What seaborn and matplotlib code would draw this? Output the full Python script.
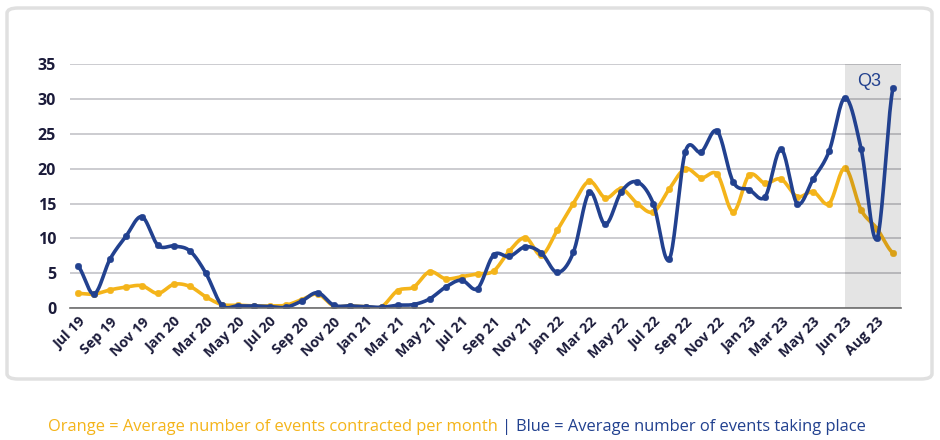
import numpy as np
import pandas as pd
import seaborn as sns
import matplotlib.pyplot as plt
from matplotlib.patches import FancyBboxPatch

# values, one per month slot (52 slots, labels every 2nd)
contracted = [2.1, 2.0, 2.6, 3.0, 3.2, 2.1, 3.4, 3.1, 1.6, 0.5,
              0.4, 0.3, 0.3, 0.4, 1.2, 2.0, 0.3, 0.3, 0.2, 0.2,
              2.5, 3.0, 5.2, 4.2, 4.5, 4.9, 5.3, 8.2, 10.1, 7.6,
              11.2, 15.0, 18.2, 15.8, 17.1, 15.0, 13.8, 17.1, 20.0, 18.7,
              19.2, 13.8, 19.1, 17.9, 18.5, 16.0, 16.7, 15.0, 20.1, 14.1,
              11.4, 7.9]
taking_place = [6.0, 2.0, 7.0, 10.3, 13.1, 9.0, 8.9, 8.2, 5.0, 0.4,
                0.3, 0.3, 0.2, 0.1, 1.0, 2.2, 0.4, 0.3, 0.2, 0.1,
                0.4, 0.5, 1.3, 3.0, 4.0, 2.8, 7.6, 7.4, 8.8, 7.9,
                5.1, 8.0, 16.6, 12.0, 16.7, 18.1, 15.0, 7.0, 22.4, 22.4,
                25.4, 18.1, 17.0, 16.0, 22.8, 15.0, 18.5, 22.5, 30.2, 22.9,
                10.0, 31.6]
tick_labels = ["Jul 19", "Sep 19", "Nov 19", "Jan 20", "Mar 20", "May 20", "Jul 20",
               "Sep 20", "Nov 20", "Jan 21", "Mar 21", "May 21", "Jul 21", "Sep 21",
               "Nov 21", "Jan 22", "Mar 22", "May 22", "Jul 22", "Sep 22", "Nov 22",
               "Jan 23", "Mar 23", "May 23", "Jun 23", "Aug 23"]
q3_start = 48

ORANGE = "#F4B41A"
BLUE = "#22418F"
TEXT = "#1B1B3A"


def smooth(y, steps=20):
    # catmull-rom curve through the points, like excel's smoothed line
    y = np.asarray(y, dtype=float)
    x = np.arange(len(y), dtype=float)
    px = np.concatenate([[2 * x[0] - x[1]], x, [2 * x[-1] - x[-2]]])
    py = np.concatenate([[y[0]], y, [y[-1]]])
    xs, ys = [], []
    t = np.linspace(0, 1, steps, endpoint=False)
    for i in range(1, len(px) - 2):
        for arr, out in ((px, xs), (py, ys)):
            p0, p1, p2, p3 = arr[i - 1], arr[i], arr[i + 1], arr[i + 2]
            out.extend(0.5 * ((2 * p1) + (-p0 + p2) * t + (2 * p0 - 5 * p1 + 4 * p2 - p3) * t ** 2
                              + (-p0 + 3 * p1 - 3 * p2 + p3) * t ** 3))
    xs.append(x[-1])
    ys.append(y[-1])
    return np.array(xs), np.array(ys)


sns.set_theme(style="white")
plt.rcParams['font.family'] = ['Open Sans', 'DejaVu Sans']

fig = plt.figure(figsize=(9.4, 4.4), dpi=100)
ax = fig.add_axes([0.0745, 0.3, 0.884, 0.5539])

# outer rounded frame
frame = FancyBboxPatch((7 / 940, 61 / 440), 925 / 940, 371 / 440,
                       boxstyle="round,pad=0,rounding_size=0.012",
                       transform=fig.transFigure, fill=False,
                       edgecolor="#E0E0E0", linewidth=2.5, zorder=0)
fig.patches.append(frame)

idx = np.arange(len(contracted))
sx, sy = smooth(contracted)
sns.lineplot(x=sx, y=sy, ax=ax, color=ORANGE, linewidth=2.6, sort=False, zorder=3)
sns.scatterplot(x=idx, y=contracted, ax=ax, color=ORANGE, s=22, edgecolor=ORANGE, zorder=3)

# Q3 shading sits above the orange line but under the blue one
ax.axvspan(q3_start, len(contracted) - 0.5, color="black", alpha=0.105, linewidth=0, zorder=4)

bx, by = smooth(taking_place)
sns.lineplot(x=bx, y=by, ax=ax, color=BLUE, linewidth=2.6, sort=False, zorder=5)
sns.scatterplot(x=idx, y=taking_place, ax=ax, color=BLUE, s=22, edgecolor=BLUE, zorder=5)

ax.text(49.5, 32.5, "Q3", color=BLUE, fontsize=13, ha="center", va="center",
        family=['Liberation Sans', 'DejaVu Sans'], zorder=6)

ax.set_xlim(-0.5, len(contracted) - 0.5)
ax.set_ylim(0, 35)
ax.set_yticks(range(0, 36, 5))
ax.set_xticks(range(0, 2 * len(tick_labels), 2))
ax.set_xticklabels(tick_labels, rotation=45, ha="right", rotation_mode="anchor")
ax.tick_params(axis="x", labelsize=10.3, colors=TEXT, pad=5, length=0)
ax.tick_params(axis="y", labelsize=11.5, colors=TEXT, pad=10, length=0)
for lab in ax.get_xticklabels() + ax.get_yticklabels():
    lab.set_fontweight("bold")

ax.yaxis.grid(True, color="#C4C4C8", linewidth=1.2, zorder=1)
ax.set_axisbelow(True)
for side in ["top", "right", "left"]:
    ax.spines[side].set_visible(False)
ax.spines["bottom"].set_color("#6E6E6E")
ax.spines["bottom"].set_linewidth(1.2)
ax.spines["bottom"].set_zorder(6)
ax.set_xlabel("")
ax.set_ylabel("")

# caption in two colours
parts = [("Orange = Average number of events contracted per month ", ORANGE),
         ("| ", "#23418F"),
         ("Blue = Average number of events taking place", BLUE)]
fig.canvas.draw()
renderer = fig.canvas.get_renderer()
xpos = 48
for txt, col in parts:
    t = fig.text(xpos / 940, 1 - 427 / 440, txt, color=col, fontsize=11.9,
                 ha="left", va="center")
    xpos += t.get_window_extent(renderer).width

fig.savefig("out.png", dpi=100)
